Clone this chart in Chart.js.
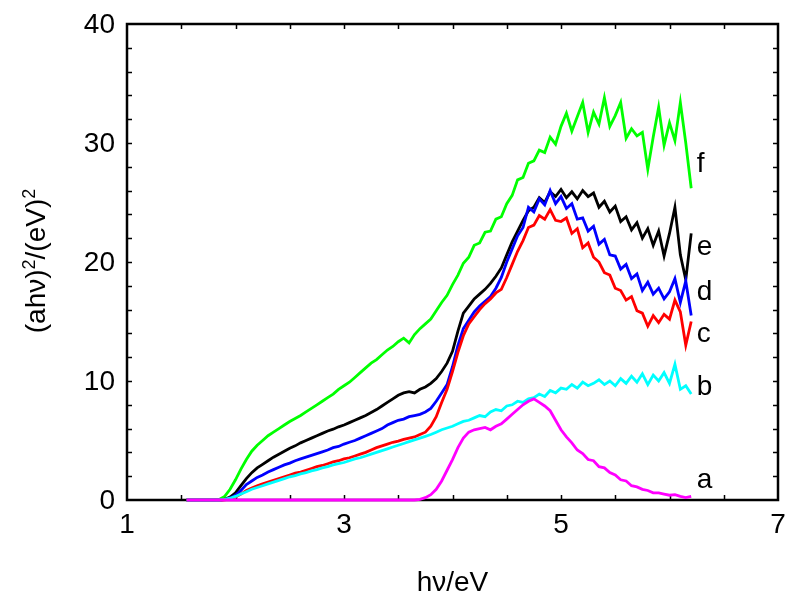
<!DOCTYPE html>
<html>
<head>
<meta charset="utf-8">
<script src="https://cdn.jsdelivr.net/npm/chart.js@4/dist/chart.umd.min.js"></script>
<style>
  html, body { margin: 0; padding: 0; background: #fff; }
  #wrap { width: 786px; height: 598px; }
</style>
</head>
<body>
<div id="wrap"><canvas id="c" width="786" height="598"></canvas></div>
<script>
// photon energy hν (eV)
const xs = [
  1.55,1.60,1.65,1.70,1.75,1.80,1.85,1.90,1.95,2.00,
  2.05,2.10,2.15,2.20,2.25,2.30,2.35,2.40,2.45,2.50,
  2.55,2.60,2.65,2.70,2.75,2.80,2.85,2.90,2.95,3.00,
  3.05,3.10,3.15,3.20,3.25,3.30,3.35,3.40,3.45,3.50,
  3.55,3.60,3.65,3.70,3.75,3.80,3.85,3.90,3.95,4.00,
  4.05,4.10,4.15,4.20,4.25,4.30,4.35,4.40,4.45,4.50,
  4.55,4.60,4.65,4.70,4.75,4.80,4.85,4.90,4.95,5.00,
  5.05,5.10,5.15,5.20,5.25,5.30,5.35,5.40,5.45,5.50,
  5.55,5.60,5.65,5.70,5.75,5.80,5.85,5.90,5.95,6.00,
  6.05,6.10,6.15,6.20
];
const seriesA = [
  0,0,0,0,0,0,0,0,0,0,
  0,0,0,0,0,0,0,0,0,0,
  0,0,0,0,0,0,0,0,0,0,
  0,0,0,0,0,0,0,0,0,0,
  0,0,0,0.05,0.2,0.45,0.9,1.6,2.5,3.4,
  4.4,5.2,5.7,5.9,6.0,6.1,5.9,6.2,6.4,6.8,
  7.2,7.6,8.0,8.3,8.5,8.2,7.9,7.5,6.7,5.9,
  5.3,4.8,4.2,3.9,3.4,3.3,2.8,2.7,2.3,2.1,
  1.7,1.6,1.2,1.1,0.9,0.8,0.6,0.6,0.5,0.4,
  0.45,0.3,0.2,0.3
];
const seriesB = [
  0,0,0,0,0,0,0,0.05,0.15,0.3,
  0.5,0.7,0.9,1.05,1.2,1.35,1.5,1.65,1.8,1.95,
  2.05,2.2,2.3,2.45,2.55,2.7,2.8,2.95,3.05,3.15,
  3.3,3.45,3.55,3.7,3.85,4.0,4.15,4.3,4.45,4.6,
  4.75,4.9,5.05,5.2,5.35,5.5,5.7,5.9,6.05,6.2,
  6.4,6.6,6.7,6.9,7.1,7.0,7.4,7.6,7.5,7.9,
  8.0,8.3,8.2,8.5,8.6,8.9,8.7,9.2,9.0,9.4,
  9.3,9.7,9.4,9.9,9.6,9.8,10.1,9.7,10.0,9.6,
  10.2,9.8,10.4,9.9,10.6,9.7,10.5,10.0,10.7,9.8,
  11.4,9.3,9.6,8.9
];
const seriesC = [
  0,0,0,0,0,0,0,0.02,0.1,0.25,
  0.5,0.8,1.0,1.2,1.35,1.5,1.65,1.8,1.95,2.1,
  2.25,2.35,2.5,2.65,2.8,2.9,3.05,3.2,3.3,3.45,
  3.55,3.7,3.85,4.0,4.2,4.4,4.55,4.7,4.85,4.95,
  5.1,5.2,5.3,5.5,5.7,6.2,7.0,8.2,9.3,10.8,
  12.4,13.8,14.8,15.4,16.0,16.5,16.9,17.4,17.7,18.7,
  19.8,20.9,21.8,22.9,23.1,23.9,23.6,24.4,23.5,23.4,
  23.7,22.4,22.8,21.2,21.6,20.4,20.0,19.1,18.9,17.8,
  17.6,16.8,17.1,15.9,15.7,14.6,15.5,14.9,15.6,15.2,
  16.8,15.8,13.0,15.0
];
const seriesD = [
  0,0,0,0,0,0,0,0.03,0.15,0.4,
  0.8,1.3,1.6,1.9,2.1,2.35,2.55,2.75,2.95,3.1,
  3.3,3.45,3.6,3.75,3.9,4.05,4.2,4.4,4.5,4.7,
  4.85,5.0,5.2,5.4,5.6,5.8,6.0,6.3,6.5,6.7,
  6.8,7.0,7.1,7.2,7.4,7.7,8.3,9.0,9.7,11.2,
  13.0,14.4,15.1,15.8,16.3,16.7,17.1,17.8,18.7,20.0,
  21.1,22.2,22.9,24.6,24.2,25.3,24.8,26.0,24.9,25.5,
  24.5,24.9,23.6,23.7,22.6,23.0,21.5,21.9,20.6,20.5,
  19.4,19.8,18.6,19.0,17.6,18.3,17.3,17.8,16.9,17.5,
  18.6,16.6,18.4,15.5
];
const seriesE = [
  0,0,0,0,0,0,0,0.05,0.25,0.6,
  1.2,1.8,2.3,2.7,3.0,3.3,3.6,3.85,4.1,4.35,
  4.55,4.8,5.0,5.2,5.4,5.6,5.8,5.95,6.15,6.3,
  6.5,6.7,6.9,7.1,7.35,7.6,7.9,8.2,8.5,8.8,
  9.0,9.1,9.0,9.3,9.5,9.8,10.2,10.8,11.5,12.5,
  14.2,15.7,16.3,16.9,17.3,17.7,18.2,18.8,19.5,20.6,
  21.7,22.6,23.5,24.3,24.6,25.4,25.0,25.9,25.5,26.1,
  25.4,25.9,25.3,26.0,25.5,25.8,24.6,25.1,24.2,24.7,
  23.4,23.8,22.7,23.3,22.0,22.8,21.4,22.6,20.5,22.4,
  24.6,20.6,18.5,22.4
];
const seriesF = [
  0,0,0,0,0,0,0.05,0.3,0.9,1.7,
  2.6,3.4,4.1,4.6,5.0,5.4,5.7,6.0,6.3,6.6,
  6.85,7.1,7.4,7.7,8.0,8.3,8.6,8.9,9.3,9.6,
  9.9,10.3,10.7,11.1,11.5,11.8,12.2,12.6,12.9,13.3,
  13.6,13.2,13.9,14.4,14.8,15.2,15.9,16.6,17.2,18.1,
  18.9,19.9,20.4,21.4,21.6,22.5,22.6,23.6,23.8,24.9,
  25.6,26.9,27.1,28.3,28.5,29.4,29.2,30.5,29.9,31.4,
  32.5,31.0,32.2,33.4,30.9,32.6,31.6,33.8,31.4,32.3,
  33.4,30.4,31.2,30.6,30.9,27.8,30.5,33.0,29.8,31.7,
  30.2,33.4,30.0,26.2
];
const seriesNames = ['a','b','c','d','e','f'];
const seriesColors = ['#ff00ff','#00ffff','#ff0000','#0000ff','#000000','#00ff00'];
const seriesValues = [seriesA, seriesB, seriesC, seriesD, seriesE, seriesF];
// curve labels placed in data coordinates (left edge, baseline)
const labelX = [6.25, 6.25, 6.25, 6.25, 6.25, 6.25];
const labelY = [1.0, 8.8, 13.3, 16.8, 20.6, 27.6];
// tick values
const xMajorTicks = [1, 3, 5, 7];
const yMajorTicks = [0, 10, 20, 30, 40];
const xMinorTicks = [1.5, 2, 2.5, 3, 3.5, 4, 4.5, 5, 5.5, 6, 6.5];
const yMinorTicks = [2, 4, 6, 8, 10, 12, 14, 16, 18, 20, 22, 24, 26, 28, 30, 32, 34, 36, 38];
const xTitle = 'hν/eV';

const FONT = '"Liberation Sans", Arial, Helvetica, sans-serif';

const datasets = seriesValues.map((vals, i) => ({
  label: seriesNames[i],
  data: xs.map((x, k) => ({ x: x, y: vals[k] })),
  borderColor: seriesColors[i],
  backgroundColor: seriesColors[i],
  borderWidth: 2.8,
  pointRadius: 0,
  tension: 0,
  fill: false,
  clip: false
}));

const framePlugin = {
  id: 'frame',
  beforeDatasetsDraw(chart) {
    const { ctx, chartArea: { left, right, top, bottom }, scales: { x, y } } = chart;
    ctx.save();
    ctx.strokeStyle = '#000';
    ctx.lineWidth = 1.5;
    const L = 5;
    xMinorTicks.forEach(v => {
      const px = Math.round(x.getPixelForValue(v)) + 0.5;
      ctx.beginPath();
      ctx.moveTo(px, bottom); ctx.lineTo(px, bottom - L);
      ctx.moveTo(px, top); ctx.lineTo(px, top + L);
      ctx.stroke();
    });
    yMinorTicks.forEach(v => {
      const py = Math.round(y.getPixelForValue(v)) + 0.5;
      ctx.beginPath();
      ctx.moveTo(left, py); ctx.lineTo(left + L, py);
      ctx.moveTo(right, py); ctx.lineTo(right - L, py);
      ctx.stroke();
    });
    ctx.lineWidth = 2.5;
    ctx.strokeRect(left, top, right - left, bottom - top);

    // tick labels
    ctx.fillStyle = '#000';
    ctx.font = '28px ' + FONT;
    ctx.textAlign = 'center';
    ctx.textBaseline = 'alphabetic';
    xMajorTicks.forEach(v => {
      ctx.fillText(String(v), x.getPixelForValue(v), bottom + 33);
    });
    ctx.textAlign = 'right';
    ctx.textBaseline = 'middle';
    yMajorTicks.forEach(v => {
      ctx.fillText(String(v), left - 12, y.getPixelForValue(v) + 1);
    });
    ctx.restore();
  },
  afterDraw(chart) {
    const { ctx, chartArea: { left, right, top, bottom }, scales: { x, y } } = chart;
    ctx.save();
    ctx.fillStyle = '#000';
    // curve labels
    ctx.font = '28px ' + FONT;
    ctx.textAlign = 'left';
    ctx.textBaseline = 'alphabetic';
    seriesNames.forEach((n, i) => {
      ctx.fillText(n, x.getPixelForValue(labelX[i]), y.getPixelForValue(labelY[i]));
    });
    // x title
    ctx.textAlign = 'center';
    ctx.fillText(xTitle, (left + right) / 2, 591);
    // y title with superscripts
    const parts = [
      { t: '(ahν)', sup: false },
      { t: '2', sup: true },
      { t: '/(eV)', sup: false },
      { t: '2', sup: true }
    ];
    let total = 0;
    parts.forEach(p => {
      ctx.font = (p.sup ? '18px ' : '28px ') + FONT;
      p.w = ctx.measureText(p.t).width;
      total += p.w;
    });
    ctx.translate(45, (top + bottom) / 2 - 1);
    ctx.rotate(-Math.PI / 2);
    ctx.textAlign = 'left';
    let cx = -total / 2;
    parts.forEach(p => {
      ctx.font = (p.sup ? '18px ' : '28px ') + FONT;
      ctx.fillText(p.t, cx, p.sup ? -10 : 0);
      cx += p.w;
    });
    ctx.restore();
  }
};

new Chart(document.getElementById('c'), {
  type: 'line',
  data: { datasets },
  options: {
    responsive: false,
    animation: false,
    events: [],
    layout: { padding: { top: 24, right: 8, left: 0, bottom: 0 } },
    plugins: { legend: { display: false }, tooltip: { enabled: false }, title: { display: false } },
    scales: {
      x: {
        type: 'linear', min: 1, max: 7,
        grid: { display: false },
        border: { display: false },
        afterFit(s) { s.height = 98; },
        ticks: { display: false }
      },
      y: {
        type: 'linear', min: 0, max: 40,
        grid: { display: false },
        border: { display: false },
        afterFit(s) { s.width = 127; },
        ticks: { display: false }
      }
    }
  },
  plugins: [framePlugin]
});
</script>
</body>
</html>
